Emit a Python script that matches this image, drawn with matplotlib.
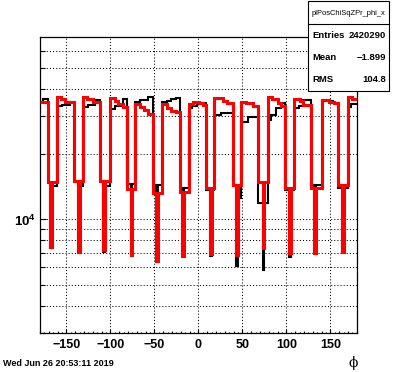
import matplotlib.pyplot as plt
from matplotlib.patches import Rectangle

plt.rcParams['font.family'] = ['Liberation Sans', 'DejaVu Sans']
plt.rcParams['mathtext.fontset'] = 'custom'
plt.rcParams['mathtext.rm'] = 'Liberation Sans:bold'
plt.rcParams['mathtext.it'] = 'Liberation Sans:bold'
plt.rcParams['mathtext.bf'] = 'Liberation Sans:bold'

# red histogram: bin edges (deg) and contents
red_edges = [-180, -171, -168, -166, -161, -156, -151, -141, -137, -135, -131,
             -126, -120, -112, -108, -106, -100, -95, -91, -86, -81, -77, -75,
             -72, -66, -62, -57, -51, -48, -46, -41, -36, -31, -25, -21, -18,
             -16, -11, -6, 1, 5, 9, 13, 15, 18, 28, 33, 39, 43, 45, 49, 54, 62,
             68, 73, 75, 79, 84, 90, 94, 99, 103, 105, 109, 115, 119, 128, 132,
             134, 141, 149, 154, 159, 163, 165, 170, 175, 180]
red_counts = [34800, 14960, 7465, 14960, 36950, 36180, 35020, 15040, 7079, 15040,
              36950, 36060, 35020, 15040, 7207, 15040, 36340, 35290, 34070, 33000,
              13800, 6835, 13800, 34180, 33210, 32060, 30720, 13200, 6431, 13200,
              34000, 32650, 31700, 31290, 13340, 6763, 13340, 34000, 34800, 34440,
              33820, 13920, 6909, 13920, 36340, 35290, 34440, 14410, 6835, 14410,
              35020, 34440, 33460, 14880, 7340, 14880, 36950, 35940, 34440, 33460,
              13920, 6960, 13920, 35940, 35290, 33820, 13920, 6960, 13920, 35670,
              35020, 34440, 14410, 7079, 14410, 36950, 36180]

# black histogram
black_edges = [-180, -176, -171, -168, -166, -161, -155, -146, -141, -137, -135,
               -131, -125, -117, -112, -108, -106, -100, -95, -86, -81, -77, -75,
               -72, -66, -57, -51, -48, -46, -41, -36, -31, -25, -21, -18, -16,
               -11, -7, -2, 9, 13, 15, 18, 26, 39, 43, 45, 49, 56, 68, 73, 75, 79,
               83, 88, 94, 99, 103, 105, 109, 114, 119, 128, 132, 134, 141, 153,
               159, 163, 165, 170, 174, 180]
black_counts = [34800, 35940, 14960, 7386, 14200, 33460, 33820, 35020, 15040, 7004,
                14200, 33210, 33720, 35670, 15040, 7079, 14200, 32310, 33570, 36060,
                14600, 6835, 14600, 35020, 35670, 36950, 14500, 6431, 14500, 34800,
                35400, 36060, 36340, 14000, 6763, 14000, 32650, 33570, 34440, 13670,
                6763, 13670, 30400, 31150, 14410, 6078, 12500, 28310, 29850, 11860,
                5868, 11860, 28830, 30400, 32650, 34440, 13670, 6670, 13670, 32650,
                33460, 35670, 14500, 6960, 14500, 35290, 34440, 14000, 6960, 14000,
                33210, 34070]

x_major = [-150, -100, -50, 0, 50, 100, 150]
x_mid = list(range(-180, 181, 10))
x_small = list(range(-180, 181, 5))
y_major = [1e4]
y_minor = [3e3, 4e3, 5e3, 6e3, 7e3, 8e3, 9e3, 2e4, 3e4, 4e4, 5e4, 6e4]

stat_names = ['Entries', 'Mean', 'RMS']
stat_values = ['2420290', '\u22121.899', '104.8']

fig = plt.figure(figsize=(3.96, 3.72), dpi=100)
ax = fig.add_axes([0.1008, 0.1048, 0.8, 0.7957])

ax.stairs(black_counts, black_edges, color='black', lw=1.5, baseline=None, zorder=3)
ax.stairs(red_counts, red_edges, color='red', lw=2.2, baseline=None, zorder=4)

ax.set_yscale('log')
ax.set_xlim(-180, 180)
ax.set_ylim(2985, 69700)

ax.set_xticks(x_major)
ax.set_xticklabels([str(v).replace('-', '\u2212') for v in x_major],
                   fontsize=9, fontweight='bold')
ax.set_xticks(x_small, minor=True)
ax.set_yticks(y_major)
ax.set_yticklabels([r'$10^{4}$'], fontsize=9.5)
ax.set_yticks(y_minor, minor=True)
ax.set_yticklabels([], minor=True)

ax.tick_params(axis='x', which='major', direction='in', length=3.2, width=0.8, pad=4)
ax.tick_params(axis='x', which='minor', direction='in', length=0.9, width=0.8)
ax.tick_params(axis='y', which='major', direction='in', length=4.5, width=0.8, pad=3)
ax.tick_params(axis='y', which='minor', direction='in', length=3.8, width=0.8)
ax.tick_params(top=False, right=False, which='both')

# medium ticks every 10 deg
sec = ax.secondary_xaxis('bottom')
sec.set_xticks(x_mid)
sec.set_xticklabels([])
sec.tick_params(direction='in', length=1.8, width=0.8)
sec.spines['bottom'].set_visible(False)

ax.xaxis.grid(True, which='major', color='black', lw=0.75, ls=(0, (1, 2)))
ax.yaxis.grid(True, which='both', color='black', lw=0.75, ls=(0, (1, 2)))
ax.set_axisbelow(True)
for s in ax.spines.values():
    s.set_linewidth(0.9)

fig.text(352.7 / 396, 1 - 363 / 372, '\u03d5', family='DejaVu Serif',
         fontsize=10, ha='center', va='center')
fig.text(3 / 396, 1 - 364 / 372, 'Wed Jun 26 20:53:11 2019', fontsize=6.5,
         fontweight='bold', ha='left', va='center')

# stats box
bx0, bx1, by0, by1 = 308.3, 389.3, 1.0, 91.0
fig.patches.append(Rectangle((bx0 / 396, 1 - by1 / 372), (bx1 - bx0) / 396,
                             (by1 - by0) / 372, transform=fig.transFigure,
                             fc='white', ec='black', lw=0.8, zorder=10))
fig.lines.append(plt.Line2D([bx0 / 396, bx1 / 396], [1 - 24 / 372, 1 - 24 / 372],
                            transform=fig.transFigure, color='black', lw=0.8, zorder=11))
fig.text((bx0 + bx1) / 2 / 396, 1 - 13.5 / 372, 'plPosChiSqZPr_phi_x', fontsize=5.4,
         ha='center', va='center', zorder=12)
for i, (n, v) in enumerate(zip(stat_names, stat_values)):
    yy = 1 - (36 + i * 22) / 372
    fig.text(312.3 / 396, yy, n, fontsize=6.8, fontweight='bold', ha='left',
             va='center', zorder=12)
    fig.text(386 / 396, yy, v, fontsize=6.8, fontweight='bold', ha='right',
             va='center', zorder=12)

fig.savefig('out.png', dpi=100)
